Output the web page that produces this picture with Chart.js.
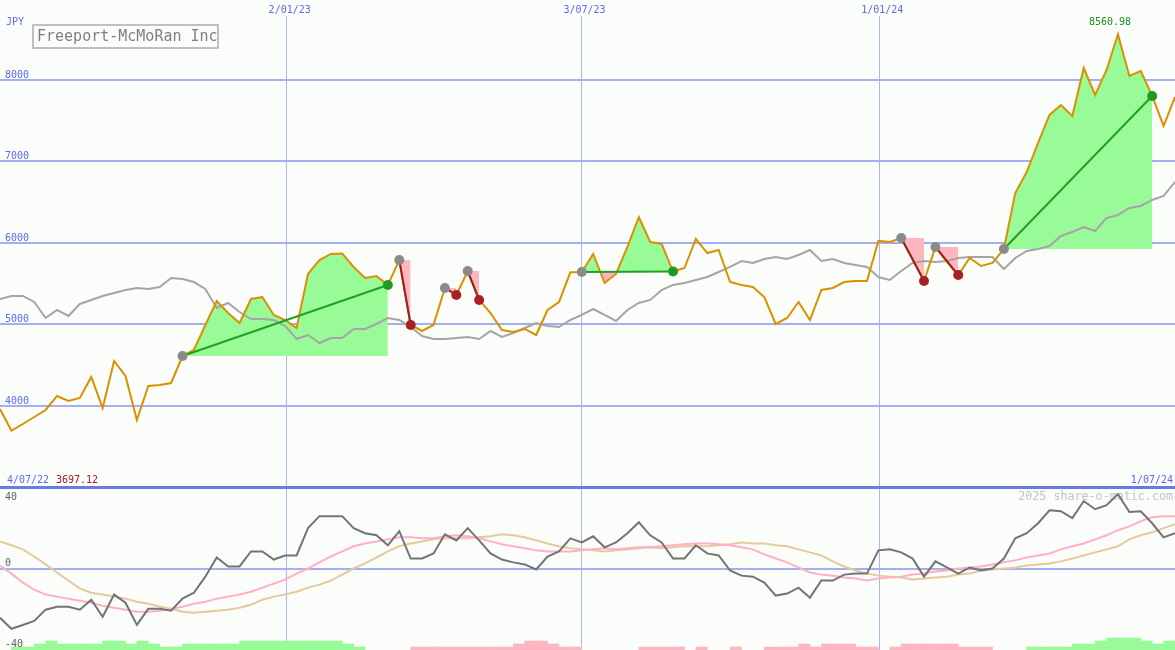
<!DOCTYPE html>
<html>
<head>
<meta charset="utf-8">
<script src="https://cdn.jsdelivr.net/npm/chart.js"></script>
<style>
  html, body { margin: 0; padding: 0; background: #fafdf9; }
  #wrap { position: relative; width: 1175px; height: 650px; overflow: hidden; background: #fafdf9; }
  canvas { position: absolute; left: 0; }
  #top { top: 0; }
  #bottom { top: 480px; }
</style>
</head>
<body>
<div id="wrap">
  <canvas id="top" width="1175" height="487"></canvas>
  <canvas id="bottom" width="1175" height="170"></canvas>
</div>
<script>
// ---- data (weekly closes, JPY) ----
const title = 'Freeport-McMoRan Inc';
const currency = 'JPY';
const priceTicks = [4000, 5000, 6000, 7000, 8000];
const oscTicks = [40, 0, -40];
const dateLabels = ['2/01/23', '3/07/23', '1/01/24'];
const dateIndex = [25.13, 50.98, 77.08];   // week index where each date falls
const startDate = '4/07/22';
const endDate = '1/07/24';
const watermark = '2025 share-o-matic.com';

const price = [
  3963, 3697.12, 3779, 3865, 3951, 4123, 4061, 4098, 4356, 3975,
  4552, 4368, 3828, 4245, 4258, 4282, 4613, 4687, 4994, 5288,
  5141, 5018, 5313, 5337, 5117, 5055, 4957, 5620, 5791, 5865,
  5870, 5706, 5571, 5595, 5485, 5791, 4994, 4920, 4994, 5448,
  5362, 5656, 5301, 5141, 4932, 4908, 4945, 4871, 5178, 5276,
  5640, 5644, 5865, 5509, 5620, 5951, 6319, 6012, 5988, 5650,
  5693, 6049, 5877, 5914, 5521, 5485, 5460, 5337, 5006, 5080,
  5276, 5055, 5423, 5448, 5521, 5534, 5534, 6025, 6012, 6061,
  5804, 5534, 5951, 5767, 5607, 5816, 5718, 5755, 5926, 6613,
  6871, 7227, 7571, 7693, 7558, 8147, 7816, 8123, 8560.98, 8049,
  8110, 7804, 7436, 7791
];
const avg = [
  5313, 5350, 5350, 5276, 5080, 5178, 5104, 5252, 5301, 5350,
  5386, 5423, 5448, 5436, 5460, 5571, 5558, 5521, 5436, 5202,
  5264, 5153, 5067, 5067, 5055, 4982, 4822, 4871, 4773, 4834,
  4834, 4945, 4945, 5006, 5080, 5055, 4969, 4859, 4822, 4822,
  4834, 4847, 4822, 4920, 4847, 4896, 4957, 5018, 4982, 4969,
  5055, 5117, 5190, 5117, 5043, 5178, 5264, 5301, 5423, 5485,
  5509, 5546, 5583, 5644, 5706, 5779, 5755, 5804, 5828, 5804,
  5853, 5914, 5779, 5804, 5755, 5730, 5706, 5583, 5546, 5656,
  5755, 5779, 5767, 5779, 5816, 5828, 5828, 5828, 5681, 5816,
  5902, 5926, 5963, 6086, 6135, 6196, 6147, 6307, 6344, 6429,
  6454, 6528, 6577, 6748
];
// [entry week, exit week]
const trades = [[16, 34], [35, 36], [39, 40], [41, 42], [51, 59], [79, 81], [82, 84], [88, 101]];

const osc = [
  -24.2, -29.6, -27.7, -25.7, -20.2, -18.8, -18.8, -20.2, -15.3, -23.7,
  -12.8, -16.8, -27.7, -19.8, -19.8, -20.7, -14.8, -11.9, -4.0, 5.4,
  1.0, 1.0, 8.4, 8.4, 4.4, 6.4, 6.4, 19.8, 25.7, 25.7,
  25.7, 19.8, 17.3, 16.3, 11.4, 18.3, 4.9, 4.9, 7.4, 16.8,
  13.8, 19.8, 13.8, 7.4, 4.4, 3.0, 2.0, -0.5, 5.9, 8.4,
  14.8, 12.8, 15.8, 10.4, 12.8, 17.3, 22.7, 16.3, 12.8, 4.9,
  4.9, 11.4, 7.4, 6.4, -1.0, -3.5, -4.0, -6.9, -13.3, -12.3,
  -9.4, -14.3, -5.9, -5.9, -3.0, -2.5, -2.5, 8.9, 9.4, 7.9,
  4.9, -4.0, 3.5, 0.5, -2.5, 0.5, -1.0, 0, 4.9, 14.8,
  17.3, 22.2, 28.6, 28.1, 24.7, 33.1, 29.1, 31.1, 36.5, 27.7,
  28.1, 22.2, 15.3, 17.3
];
const oscFast = [
  1.5, -2.5, -6.9, -10.4, -12.8, -13.8, -14.8, -15.8, -16.8, -18.3,
  -19.3, -20.2, -21.2, -21.2, -20.7, -19.8, -18.8, -17.3, -16.3, -14.8,
  -13.8, -12.8, -11.4, -9.4, -7.4, -5.4, -2.5, 0, 3.0, 5.9,
  8.4, 10.9, 12.3, 13.3, 14.3, 15.3, 15.3, 14.8, 14.8, 15.8,
  16.3, 15.8, 14.8, 13.3, 11.9, 10.9, 9.9, 8.9, 8.4, 8.4,
  8.4, 8.9, 9.4, 9.9, 9.4, 9.9, 10.4, 10.4, 10.9, 11.4,
  11.9, 12.3, 12.3, 11.9, 11.4, 10.4, 9.4, 6.9, 4.9, 3.0,
  0.5, -2.0, -3.0, -3.5, -4.4, -4.9, -5.9, -4.9, -4.4, -4.0,
  -3.0, -2.5, -1.5, -1.0, 0, 0.5, 1.0, 2.0, 3.0, 4.0,
  5.4, 6.4, 7.4, 9.4, 10.9, 12.3, 14.3, 16.3, 18.8, 20.7,
  23.2, 25.2, 25.7, 25.7
];
const oscSlow = [
  13.3, 11.4, 9.4, 5.9, 2.0, -2.0, -5.9, -9.9, -11.9, -12.8,
  -13.8, -14.8, -16.3, -17.3, -18.8, -19.8, -21.2, -21.7, -21.2, -20.7,
  -20.2, -19.3, -17.8, -15.3, -13.8, -12.8, -11.4, -9.4, -7.9, -5.9,
  -3.0, 0, 2.5, 5.4, 8.4, 10.9, 12.3, 13.3, 14.3, 14.8,
  14.8, 14.8, 15.3, 15.8, 16.8, 16.3, 15.3, 13.8, 12.3, 10.9,
  9.9, 9.4, 8.9, 8.4, 8.9, 9.4, 9.9, 10.4, 9.9, 10.4,
  10.9, 10.9, 10.9, 11.4, 11.9, 12.8, 12.3, 12.3, 11.4, 10.9,
  9.4, 7.9, 6.4, 3.5, 1.0, -1.0, -2.5, -3.5, -4.0, -4.4,
  -5.4, -4.9, -4.4, -4.0, -3.0, -2.5, -1.0, -0.5, 0, 0.5,
  1.5, 2.0, 2.5, 3.5, 4.9, 6.4, 7.9, 9.4, 10.9, 14.3,
  16.3, 17.8, 19.8, 21.7
];
// histogram level per week interval (+ green, - pink)
const hist = [
  0, 1, 1, 2, 3, 2, 2, 2, 2, 3,
  3, 2, 3, 2, 1, 1, 2, 2, 2, 2,
  2, 3, 3, 3, 3, 3, 3, 3, 3, 3,
  2, 1, 0, 0, 0, 0, -1, -1, -1, -1,
  -1, -1, -1, -1, -1, -2, -3, -3, -2, -1,
  -1, 0, 0, 0, 0, 0, -1, -1, -1, -1,
  0, -1, 0, 0, -1, 0, 0, -1, -1, -1,
  -2, -1, -2, -2, -2, -1, -1, 0, -1, -2,
  -2, -2, -2, -2, -1, -1, -1, 0, 0, 0,
  1, 1, 1, 1, 2, 2, 3, 4, 4, 4,
  3, 2, 3
];

// ---- drawing ----
const FONT = '"DejaVu Sans Mono", monospace';
const BLUE = '#5b6bef';
const GREEN = '#98fb98';
const PINK = '#ffb6c1';
Chart.defaults.font.family = FONT;

const pts = (arr, from = 0, to = arr.length - 1) => {
  const out = [];
  for (let i = from; i <= to; i++) out.push({x: i, y: arr[i]});
  return out;
};

// no room taken by the axes: plot runs edge to edge
const noRoom = s => {
  if (s.isHorizontal()) s.height = 0; else s.width = 0;
  s.paddingTop = s.paddingBottom = s.paddingLeft = s.paddingRight = 0;
};

function xAxis() {
  return {
    type: 'linear', min: 0, max: price.length - 1, offset: false,
    afterBuildTicks: s => { s.ticks = dateIndex.map(v => ({value: v})); },
    afterFit: noRoom,
    ticks: {display: false},
    grid: {color: '#a9b5f5', lineWidth: 1, drawTicks: false, offset: false},
    border: {display: false}
  };
}

const topDatasets = [];
trades.forEach(([a, b]) => {
  const win = price[b] > price[a];
  topDatasets.push({
    data: [{x: a, y: price[a]}, {x: b, y: price[b]}],
    borderColor: win ? '#22a022' : '#9a1e1e', borderWidth: 2,
    pointRadius: 5, pointBorderWidth: 0,
    pointBackgroundColor: ['#8a8a8a', win ? '#229922' : '#a82020'],
    order: 0
  });
  topDatasets.push({
    data: pts(price, a, b),
    borderWidth: 0, borderColor: 'rgba(0,0,0,0)', pointRadius: 0,
    fill: {target: {value: price[a]}, above: GREEN, below: PINK},
    order: 3
  });
});
topDatasets.push({data: pts(price), borderColor: '#db9000', borderWidth: 2, pointRadius: 0, order: 1});
topDatasets.push({data: pts(avg), borderColor: '#a5a5a5', borderWidth: 2, pointRadius: 0, order: 2});

const topText = {
  id: 'topText',
  afterDraw(chart) {
    const {ctx, scales: {x, y}} = chart;
    ctx.save();
    ctx.textBaseline = 'alphabetic';
    ctx.font = '10px ' + FONT;
    ctx.fillStyle = BLUE;
    ctx.textAlign = 'left';
    ctx.fillText(currency, 6, 25);
    ctx.textAlign = 'center';
    dateLabels.forEach((d, i) => ctx.fillText(d, x.getPixelForValue(dateIndex[i]) + 3, 13));
    // first / last dates and extremes
    ctx.textAlign = 'left';
    ctx.fillText(startDate, 7, 483);
    const lo = Math.min(...price);
    ctx.fillStyle = '#a01c1c';
    ctx.fillText(lo.toFixed(2), 56, 483);
    ctx.fillStyle = BLUE;
    ctx.textAlign = 'right';
    ctx.fillText(endDate, 1173, 483);
    const hi = Math.max(...price);
    const hiIdx = price.indexOf(hi);
    ctx.fillStyle = '#1f8f1f';
    ctx.textAlign = 'center';
    ctx.fillText(hi.toFixed(2), x.getPixelForValue(hiIdx) - 8, y.getPixelForValue(hi) - 9);
    // title box
    ctx.fillStyle = '#fafdf9';
    ctx.fillRect(33, 25, 185, 23);
    ctx.strokeStyle = '#c0c0c0';
    ctx.lineWidth = 2;
    ctx.strokeRect(33, 25, 185, 23);
    ctx.fillStyle = '#7f7f7f';
    ctx.font = '15px ' + FONT;
    ctx.textAlign = 'left';
    ctx.fillText(title, 37, 41);
    ctx.restore();
  }
};

new Chart(document.getElementById('top'), {
  type: 'line',
  data: {datasets: topDatasets},
  options: {
    responsive: false, animation: false, events: [],
    devicePixelRatio: 1,
    layout: {autoPadding: false, padding: {top: 16, left: 0, right: 0, bottom: 0}},
    elements: {line: {tension: 0}},
    plugins: {legend: {display: false}, tooltip: {enabled: false}},
    scales: {
      x: xAxis(),
      y: {
        min: 3006, max: 8785,
        afterBuildTicks: s => { s.ticks = priceTicks.map(v => ({value: v})); },
        afterFit: noRoom,
        ticks: {mirror: true, padding: 5, labelOffset: -5, color: BLUE,
                font: {size: 10, family: FONT}, callback: v => String(v)},
        grid: {color: '#a3aff2', lineWidth: 2, drawTicks: false},
        border: {display: false}
      }
    }
  },
  plugins: [topText]
});

const histBars = [];
const histColors = [];
hist.forEach((v, k) => {
  if (!v) return;
  histBars.push({x: k + 0.5, y: Math.abs(v)});
  histColors.push(v > 0 ? GREEN : PINK);
});

const bottomText = {
  id: 'bottomText',
  beforeDatasetsDraw(chart) {
    const {ctx} = chart;
    ctx.save();
    ctx.font = '11.7px ' + FONT;
    ctx.fillStyle = '#c4c4c4';
    ctx.textAlign = 'right';
    ctx.textBaseline = 'alphabetic';
    ctx.fillText(watermark, 1173, 20);
    ctx.restore();
  },
  afterDraw(chart) {
    const {ctx, scales: {y}} = chart;
    ctx.save();
    ctx.font = '10px ' + FONT;
    ctx.fillStyle = '#606060';
    ctx.textAlign = 'left';
    ctx.textBaseline = 'alphabetic';
    oscTicks.forEach(v => {
      const py = y.getPixelForValue(v);
      ctx.fillText(String(v), 5, v === oscTicks[0] ? py + 13 : py - 3);
    });
    ctx.restore();
  }
};

new Chart(document.getElementById('bottom'), {
  type: 'line',
  data: {
    datasets: [
      {data: pts(osc), borderColor: '#747474', borderWidth: 2, pointRadius: 0, order: 0},
      {data: pts(oscFast), borderColor: '#ffb0c6', borderWidth: 2, pointRadius: 0, order: 1},
      {data: pts(oscSlow), borderColor: '#e4ca9c', borderWidth: 2, pointRadius: 0, order: 2},
      {type: 'bar', data: histBars, yAxisID: 'yh', backgroundColor: histColors,
       borderWidth: 0, barPercentage: 1, categoryPercentage: 1, order: 3}
    ]
  },
  options: {
    responsive: false, animation: false, events: [],
    devicePixelRatio: 1,
    layout: {autoPadding: false, padding: {top: 7, left: 0, right: 0, bottom: 0}},
    elements: {line: {tension: 0}},
    plugins: {legend: {display: false}, tooltip: {enabled: false}},
    scales: {
      x: xAxis(),
      y: {
        min: -40, max: 40,
        afterBuildTicks: s => { s.ticks = oscTicks.map(v => ({value: v})); },
        afterFit: noRoom,
        ticks: {display: false},
        grid: {
          drawTicks: false,
          color: c => c.tick.value === 40 ? '#6a78e8' : (c.tick.value === 0 ? '#a3aff2' : 'rgba(0,0,0,0)'),
          lineWidth: c => c.tick.value === 40 ? 3 : 2
        },
        border: {display: false}
      },
      yh: {display: false, min: 0, max: 54.3}
    }
  },
  plugins: [bottomText]
});
</script>
</body>
</html>
